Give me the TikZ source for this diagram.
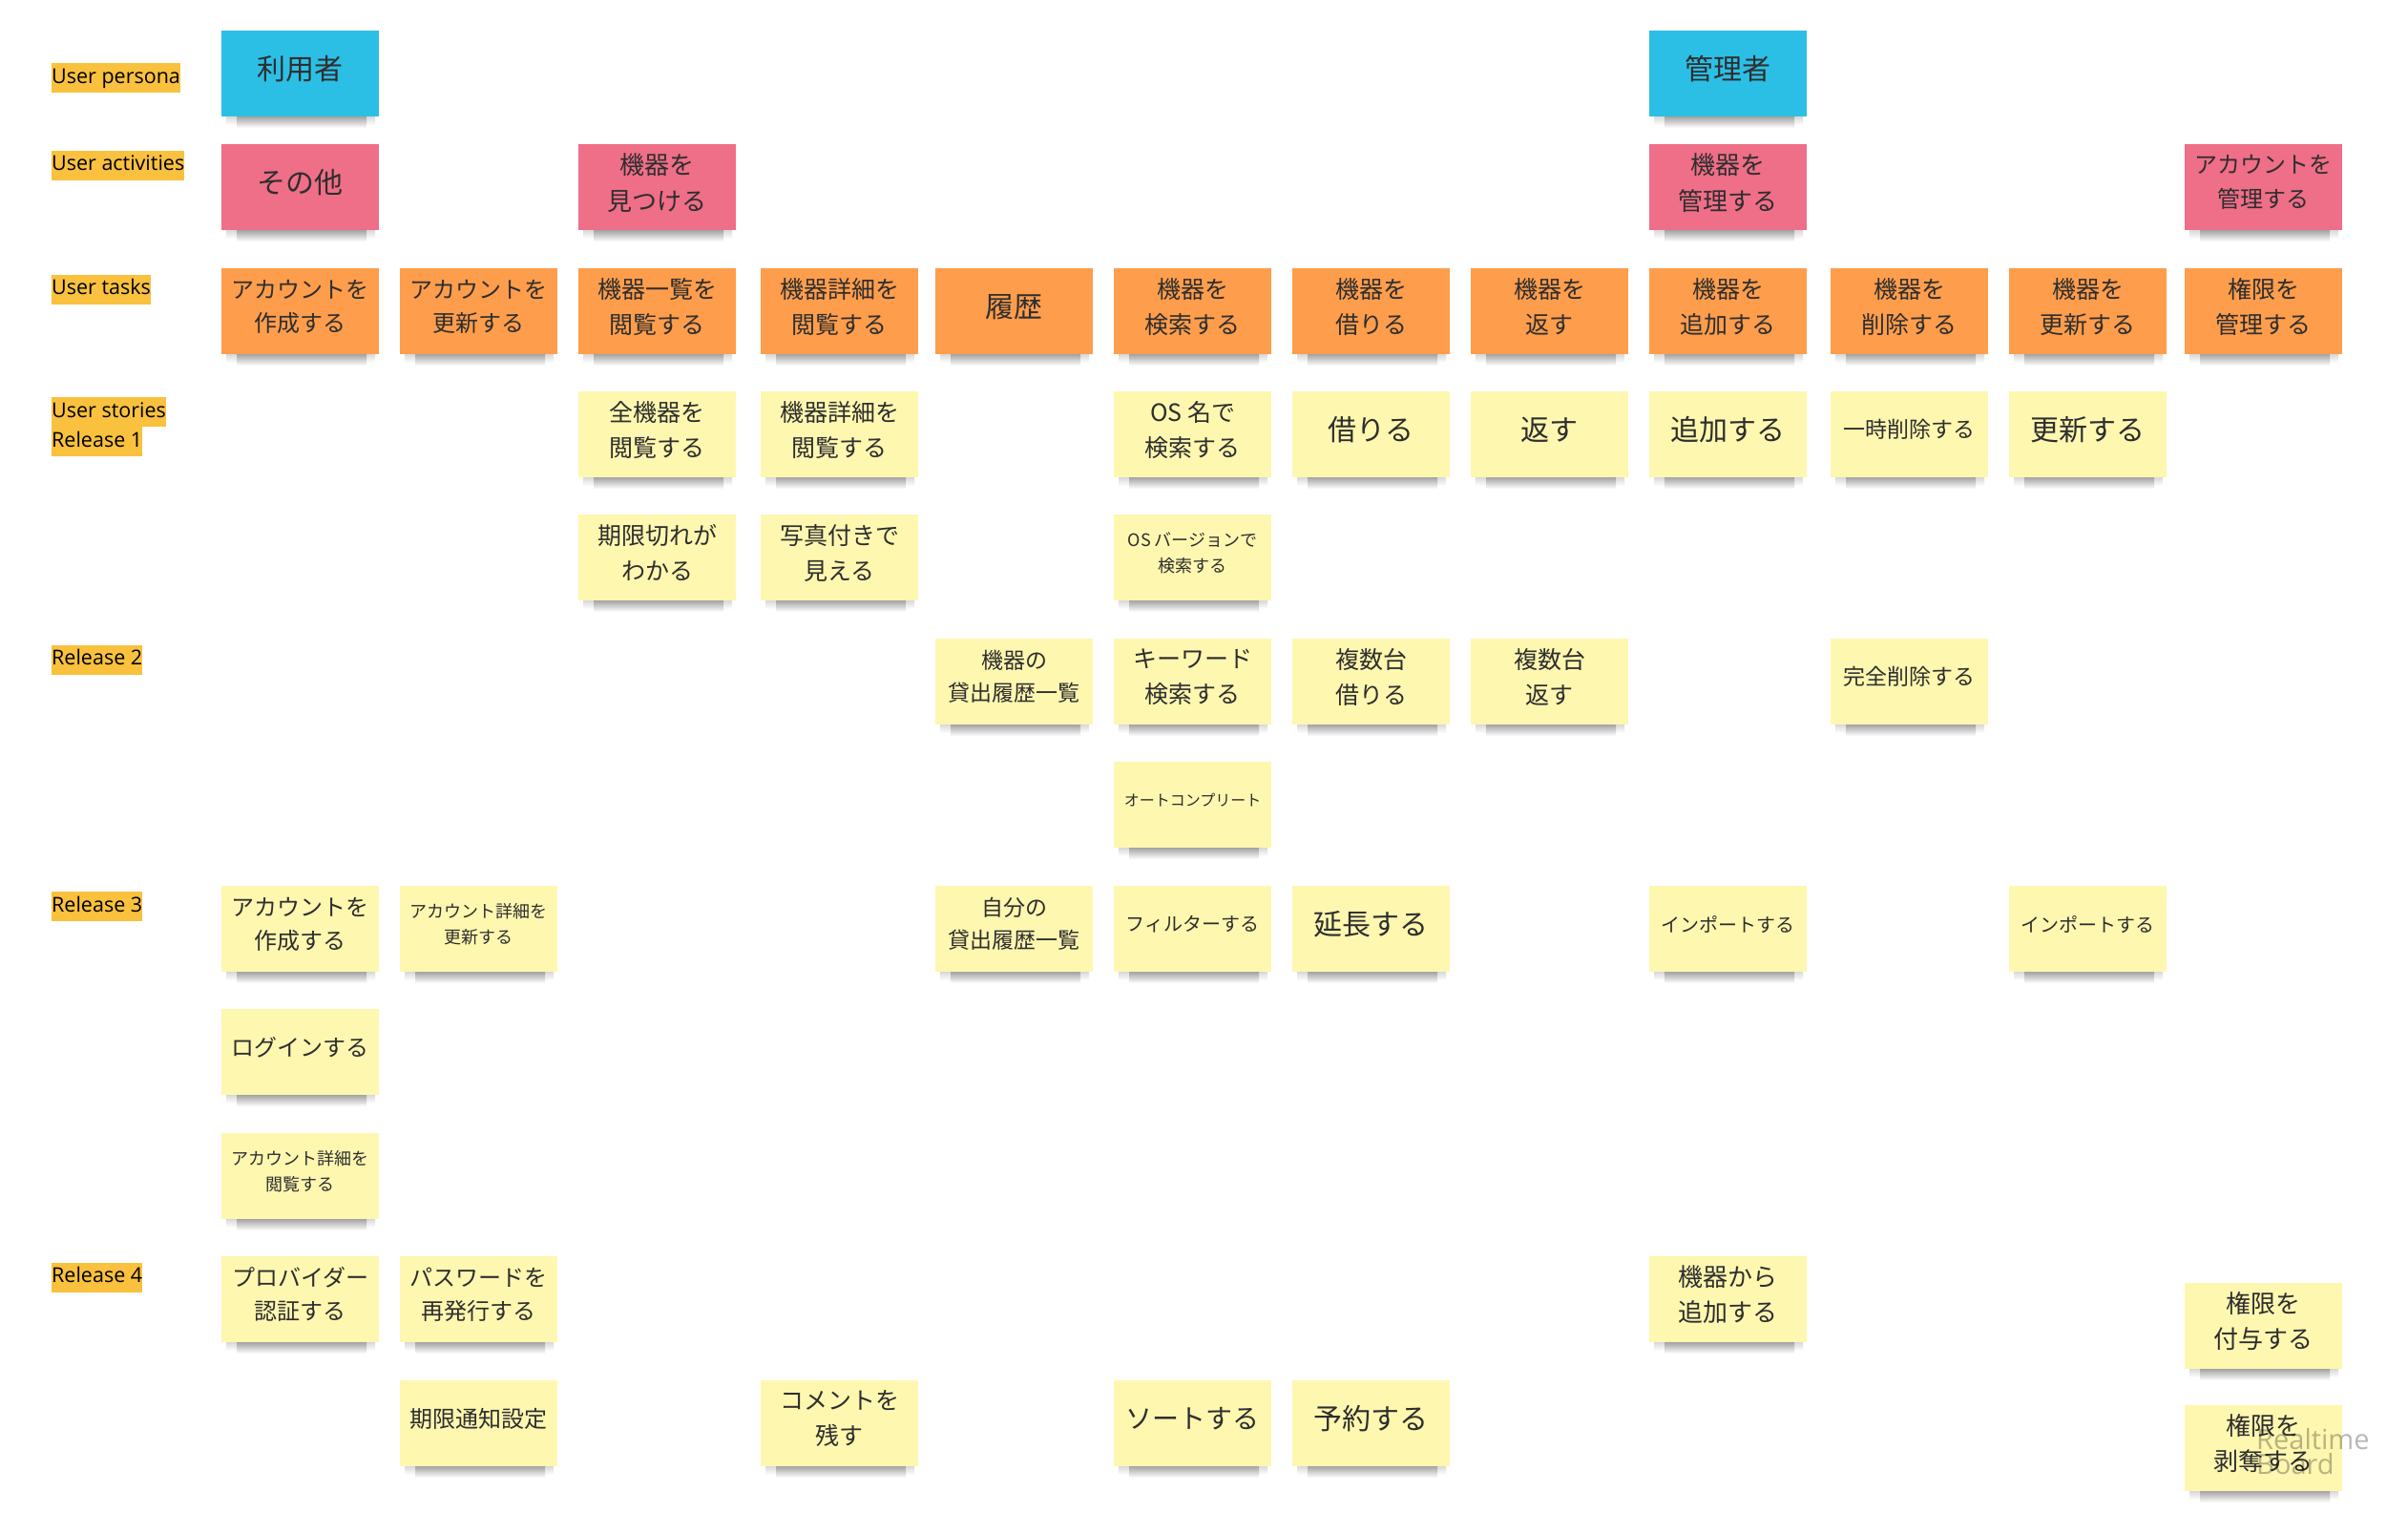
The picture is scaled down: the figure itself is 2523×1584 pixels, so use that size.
\documentclass[tikz,border=0pt]{standalone}
\usepackage{fontspec}
\newfontfamily\jp{Noto Sans CJK JP}
\newfontfamily\opens{Open Sans}
\definecolor{persona}{HTML}{2CBFE6}
\definecolor{activity}{HTML}{EF6E88}
\definecolor{task}{HTML}{FE9D4C}
\definecolor{story}{HTML}{FEF7B0}
\definecolor{labc}{HTML}{F9C13D}
\definecolor{ink}{HTML}{2E2E2E}
\tikzset{
  notebox/.style={minimum width=165pt, minimum height=90pt, inner sep=0pt, anchor=north west, draw=none},
  notetext/.style={text=ink, align=center, inner sep=0pt},
  lab/.style={fill=labc, anchor=west, inner xsep=0pt, inner ysep=0pt, minimum height=31pt,
    text height=15.5pt, text depth=4pt, font=\opens\fontsize{21.5}{25}\selectfont, text=black},
  shadowout/.style={top color=black!22, bottom color=white},
  shadowin/.style={top color=black!48, bottom color=white},
}
\newcommand\sticky[7]{%
  \shade[shadowout] (#2+5,#3+86) rectangle (#2+161,#3+99);
  \shade[shadowin] (#2+16,#3+86) rectangle (#2+152,#3+102);
  \node[notebox, fill=#4] (#1) at (#2,#3) {};
  \node[notetext, font=\jp\fontsize{#5}{#6}\selectfont] (#1-t) at ([yshift=5pt]#1.center) {#7};
}
\begin{document}
\begin{tikzpicture}[x=1pt, y=-1pt]
\useasboundingbox (0,0) rectangle (2523,1584);
\fill[white] (0,0) rectangle (2523,1584);

% row labels
\node[lab] (lpersona) at (54,82) {User persona};
\node[lab] (lact) at (54,173) {User activities};
\node[lab] (ltask) at (54,303) {User tasks};
\node[lab] (lstory) at (54,431.5) {User stories};
\node[lab] (lr1) at (54,462.5) {Release 1};
\node[lab] (lr2) at (54,691) {Release 2};
\node[lab] (lr3) at (54,949.5) {Release 3};
\node[lab] (lr4) at (54,1338) {Release 4};

% personas
\sticky{p1}{232}{32}{persona}{30}{36}{利用者}
\sticky{p9}{1728}{32}{persona}{30}{36}{管理者}

% activities
\sticky{a1}{232}{151}{activity}{30}{36}{その他}
\sticky{a3}{606}{151}{activity}{26}{38}{機器を\\見つける}
\sticky{a9}{1728}{151}{activity}{26}{38}{機器を\\管理する}
\sticky{a12}{2289}{151}{activity}{24}{36}{アカウントを\\管理する}

% tasks
\sticky{t1}{232}{281}{task}{24}{35}{アカウントを\\作成する}
\sticky{t2}{419}{281}{task}{24}{35}{アカウントを\\更新する}
\sticky{t3}{606}{281}{task}{25}{37}{機器一覧を\\閲覧する}
\sticky{t4}{797}{281}{task}{25}{37}{機器詳細を\\閲覧する}
\sticky{t5}{980}{281}{task}{30}{36}{履歴}
\sticky{t6}{1167}{281}{task}{25}{37}{機器を\\検索する}
\sticky{t7}{1354}{281}{task}{25}{37}{機器を\\借りる}
\sticky{t8}{1541}{281}{task}{25}{37}{機器を\\返す}
\sticky{t9}{1728}{281}{task}{25}{37}{機器を\\追加する}
\sticky{t10}{1918}{281}{task}{25}{37}{機器を\\削除する}
\sticky{t11}{2105}{281}{task}{25}{37}{機器を\\更新する}
\sticky{t12}{2289}{281}{task}{25}{37}{権限を\\管理する}

% release 1
\sticky{s0c3}{606}{410}{story}{25}{37}{全機器を\\閲覧する}
\sticky{s0c4}{797}{410}{story}{25}{37}{機器詳細を\\閲覧する}
\sticky{s0c6}{1167}{410}{story}{25}{37}{OS 名で\\検索する}
\sticky{s0c7}{1354}{410}{story}{30}{36}{借りる}
\sticky{s0c8}{1541}{410}{story}{30}{36}{返す}
\sticky{s0c9}{1728}{410}{story}{30}{36}{追加する}
\sticky{s0c10}{1918}{410}{story}{23}{34}{一時削除する}
\sticky{s0c11}{2105}{410}{story}{30}{36}{更新する}

\sticky{s1c3}{606}{539}{story}{25}{37}{期限切れが\\わかる}
\sticky{s1c4}{797}{539}{story}{25}{37}{写真付きで\\見える}
\sticky{s1c6}{1167}{539}{story}{18}{27}{OS バージョンで\\検索する}

% release 2
\sticky{s2c5}{980}{669}{story}{23}{34}{機器の\\貸出履歴一覧}
\sticky{s2c6}{1167}{669}{story}{25}{37}{キーワード\\検索する}
\sticky{s2c7}{1354}{669}{story}{25}{37}{複数台\\借りる}
\sticky{s2c8}{1541}{669}{story}{25}{37}{複数台\\返す}
\sticky{s2c10}{1918}{669}{story}{23}{34}{完全削除する}

\sticky{s3c6}{1167}{798}{story}{16}{24}{オートコンプリート}

% release 3
\sticky{s4c1}{232}{928}{story}{24}{35}{アカウントを\\作成する}
\sticky{s4c2}{419}{928}{story}{18}{27}{アカウント詳細を\\更新する}
\sticky{s4c5}{980}{928}{story}{23}{34}{自分の\\貸出履歴一覧}
\sticky{s4c6}{1167}{928}{story}{20}{30}{フィルターする}
\sticky{s4c7}{1354}{928}{story}{30}{36}{延長する}
\sticky{s4c9}{1728}{928}{story}{20}{30}{インポートする}
\sticky{s4c11}{2105}{928}{story}{20}{30}{インポートする}

\sticky{s5c1}{232}{1057}{story}{24}{35}{ログインする}
\sticky{s6c1}{232}{1187}{story}{18}{27}{アカウント詳細を\\閲覧する}

% release 4
\sticky{s7c1}{232}{1316}{story}{24}{35}{プロバイダー\\認証する}
\sticky{s7c2}{419}{1316}{story}{24}{35}{パスワードを\\再発行する}
\sticky{s7c9}{1728}{1316}{story}{26}{37}{機器から\\追加する}
\sticky{s7c12}{2289}{1344}{story}{26}{37}{権限を\\付与する}

\sticky{s8c2}{419}{1446}{story}{24}{35}{期限通知設定}
\sticky{s8c4}{797}{1446}{story}{25}{37}{コメントを\\残す}
\sticky{s8c6}{1167}{1446}{story}{28}{36}{ソートする}
\sticky{s8c7}{1354}{1446}{story}{30}{36}{予約する}
\sticky{s8c12}{2289}{1472}{story}{26}{37}{権限を\\剥奪する}

% watermark
\node[anchor=base west, inner sep=0pt, font=\opens\fontsize{29}{30}\selectfont, text=black, opacity=0.28] (wm1) at (2364,1518) {Realtime};
\node[anchor=base west, inner sep=0pt, font=\opens\fontsize{29}{30}\selectfont, text=black, opacity=0.28] (wm2) at (2364,1544) {Board};
\end{tikzpicture}
\end{document}
